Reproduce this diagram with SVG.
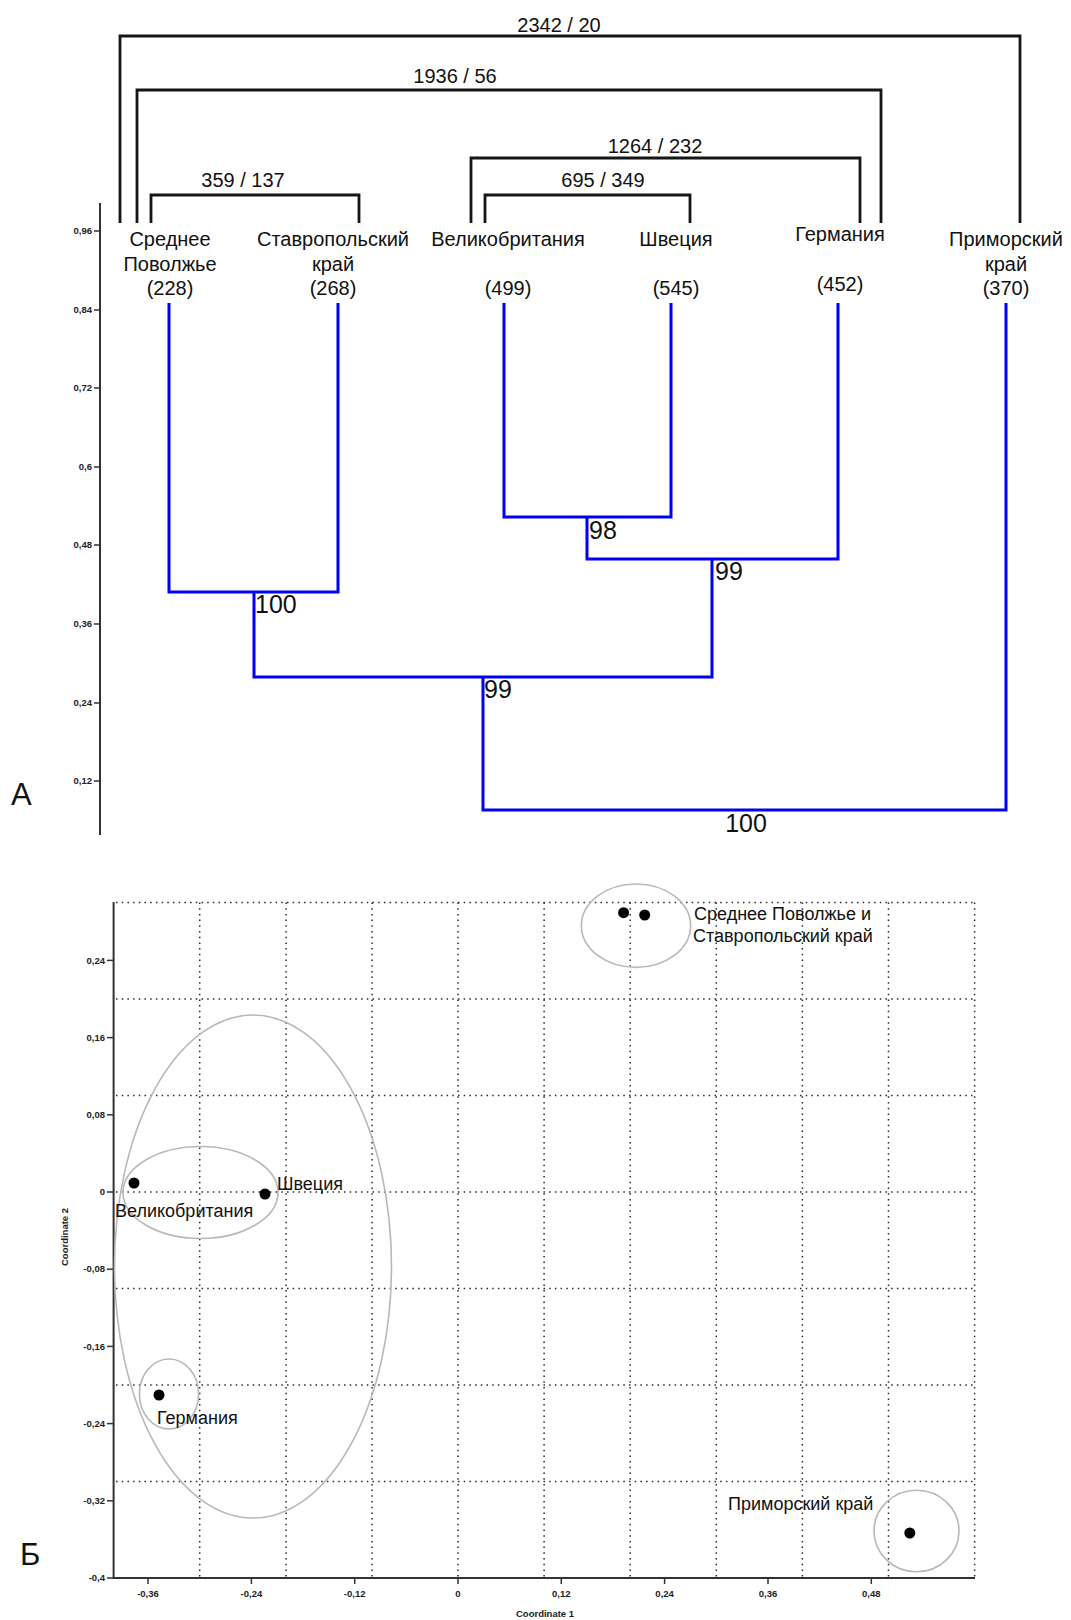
<svg xmlns="http://www.w3.org/2000/svg" width="1071" height="1620" viewBox="0 0 1071 1620">
<defs>
<style>
text{font-family:"Liberation Sans",Arial,sans-serif;fill:#111}
.lbl{font-size:20px;text-anchor:middle}
.br{fill:none;stroke:#151515;stroke-width:2.8;stroke-linejoin:miter}
.tree{fill:none;stroke:#0000f5;stroke-width:3;stroke-linejoin:miter}
.boot{font-size:25px}
.tk{font-size:9.5px;font-weight:bold;fill:#222}
.tkr{text-anchor:end}
.tkc{text-anchor:middle}
.ax{stroke:#333;stroke-width:2;fill:none}
.tm{stroke:#333;stroke-width:1.5}
.grid{stroke:#2a2a2a;stroke-width:1.5;stroke-dasharray:1.5 4.2;fill:none}
.ell{fill:none;stroke:#b8b8b8;stroke-width:1.6}
.pt{fill:#000}
.sl{font-size:18px}
.panel{font-size:31px}
</style>
</defs>
<rect width="1071" height="1620" fill="#fff"/>

<!-- ===== Panel A ===== -->
<g id="panel-a">
  <text class="panel" x="11" y="805">А</text>
  <g id="axis-a">
    <line class="ax" x1="100" y1="203" x2="100" y2="835"/>
    <g class="tm">
      <line x1="94" y1="231" x2="100" y2="231"/>
      <line x1="94" y1="310" x2="100" y2="310"/>
      <line x1="94" y1="388" x2="100" y2="388"/>
      <line x1="94" y1="467" x2="100" y2="467"/>
      <line x1="94" y1="545" x2="100" y2="545"/>
      <line x1="94" y1="624" x2="100" y2="624"/>
      <line x1="94" y1="703" x2="100" y2="703"/>
      <line x1="94" y1="781" x2="100" y2="781"/>
    </g>
    <text class="tk tkr" x="92" y="234">0,96</text>
    <text class="tk tkr" x="92" y="313">0,84</text>
    <text class="tk tkr" x="92" y="391">0,72</text>
    <text class="tk tkr" x="92" y="470">0,6</text>
    <text class="tk tkr" x="92" y="548">0,48</text>
    <text class="tk tkr" x="92" y="627">0,36</text>
    <text class="tk tkr" x="92" y="706">0,24</text>
    <text class="tk tkr" x="92" y="784">0,12</text>
  </g>

  <g id="connectors">
    <g id="brackets">
      <polyline class="br" points="120,223 120,36 1020,36 1020,223"/>
      <polyline class="br" points="137,223 137,90 881,90 881,223"/>
      <polyline class="br" points="151,223 151,195 359,195 359,223"/>
      <polyline class="br" points="471,223 471,158 860,158 860,223"/>
      <polyline class="br" points="485,223 485,195 690,195 690,223"/>
    </g>
    <g id="tree">
      <polyline class="tree" points="169,303 169,592 338,592 338,303"/>
      <polyline class="tree" points="504,303 504,517 671,517 671,303"/>
      <polyline class="tree" points="587,517 587,559 838,559 838,303"/>
      <polyline class="tree" points="254,592 254,677 712,677 712,559"/>
      <polyline class="tree" points="483,677 483,810 1006,810 1006,303"/>
    </g>
  </g>

  <g id="bracket-labels">
    <text class="lbl" x="559" y="32">2342 / 20</text>
    <text class="lbl" x="455" y="83">1936 / 56</text>
    <text class="lbl" x="243" y="187">359 / 137</text>
    <text class="lbl" x="655" y="153">1264 / 232</text>
    <text class="lbl" x="603" y="187">695 / 349</text>
  </g>

  <g id="node-sredneye-povolzhye">
    <text class="lbl" x="170" y="246">Среднее</text>
    <text class="lbl" x="170" y="271">Поволжье</text>
    <text class="lbl" x="170" y="295">(228)</text>
  </g>
  <g id="node-stavropol">
    <text class="lbl" x="333" y="246">Ставропольский</text>
    <text class="lbl" x="333" y="271">край</text>
    <text class="lbl" x="333" y="295">(268)</text>
  </g>
  <g id="node-uk">
    <text class="lbl" x="508" y="246">Великобритания</text>
    <text class="lbl" x="508" y="295">(499)</text>
  </g>
  <g id="node-sweden">
    <text class="lbl" x="676" y="246">Швеция</text>
    <text class="lbl" x="676" y="295">(545)</text>
  </g>
  <g id="node-germany">
    <text class="lbl" x="840" y="241">Германия</text>
    <text class="lbl" x="840" y="291">(452)</text>
  </g>
  <g id="node-primorsky">
    <text class="lbl" x="1006" y="246">Приморский</text>
    <text class="lbl" x="1006" y="271">край</text>
    <text class="lbl" x="1006" y="295">(370)</text>
  </g>

  <g id="bootstrap-labels">
    <text class="boot" x="255" y="613">100</text>
    <text class="boot" x="589" y="539">98</text>
    <text class="boot" x="715" y="580">99</text>
    <text class="boot" x="484" y="698">99</text>
    <text class="boot" x="746" y="832" text-anchor="middle">100</text>
  </g>
</g>

<!-- ===== Panel B ===== -->
<g id="panel-b">
  <text class="panel" x="20" y="1565">Б</text>
  <g id="grid">
    <line class="grid" x1="116" y1="902.5" x2="974.6" y2="902.5"/>
    <line class="grid" x1="116" y1="999" x2="974.6" y2="999"/>
    <line class="grid" x1="116" y1="1095.5" x2="974.6" y2="1095.5"/>
    <line class="grid" x1="116" y1="1192" x2="974.6" y2="1192"/>
    <line class="grid" x1="116" y1="1288.5" x2="974.6" y2="1288.5"/>
    <line class="grid" x1="116" y1="1385" x2="974.6" y2="1385"/>
    <line class="grid" x1="116" y1="1481.5" x2="974.6" y2="1481.5"/>
    <line class="grid" x1="199.7" y1="902.5" x2="199.7" y2="1577"/>
    <line class="grid" x1="286.1" y1="902.5" x2="286.1" y2="1577"/>
    <line class="grid" x1="372.1" y1="902.5" x2="372.1" y2="1577"/>
    <line class="grid" x1="458" y1="902.5" x2="458" y2="1577"/>
    <line class="grid" x1="544.1" y1="902.5" x2="544.1" y2="1577"/>
    <line class="grid" x1="630.2" y1="902.5" x2="630.2" y2="1577"/>
    <line class="grid" x1="716.3" y1="902.5" x2="716.3" y2="1577"/>
    <line class="grid" x1="802.4" y1="902.5" x2="802.4" y2="1577"/>
    <line class="grid" x1="888.5" y1="902.5" x2="888.5" y2="1577"/>
    <line class="grid" x1="974.6" y1="902.5" x2="974.6" y2="1577"/>
  </g>
  <g id="axes-b">
    <line class="ax" x1="113.6" y1="902" x2="113.6" y2="1578"/>
    <line class="ax" x1="112.6" y1="1578" x2="975" y2="1578"/>
    <g class="tm">
      <line x1="107" y1="960.4" x2="113.6" y2="960.4"/>
      <line x1="107" y1="1037.6" x2="113.6" y2="1037.6"/>
      <line x1="107" y1="1114.8" x2="113.6" y2="1114.8"/>
      <line x1="107" y1="1192" x2="113.6" y2="1192"/>
      <line x1="107" y1="1269.2" x2="113.6" y2="1269.2"/>
      <line x1="107" y1="1346.4" x2="113.6" y2="1346.4"/>
      <line x1="107" y1="1423.6" x2="113.6" y2="1423.6"/>
      <line x1="107" y1="1500.8" x2="113.6" y2="1500.8"/>
      <line x1="107" y1="1578" x2="113.6" y2="1578"/>
      <line x1="148" y1="1578" x2="148" y2="1584"/>
      <line x1="251.4" y1="1578" x2="251.4" y2="1584"/>
      <line x1="354.7" y1="1578" x2="354.7" y2="1584"/>
      <line x1="458" y1="1578" x2="458" y2="1584"/>
      <line x1="561.3" y1="1578" x2="561.3" y2="1584"/>
      <line x1="664.6" y1="1578" x2="664.6" y2="1584"/>
      <line x1="768" y1="1578" x2="768" y2="1584"/>
      <line x1="871.3" y1="1578" x2="871.3" y2="1584"/>
    </g>
    <text class="tk tkr" x="105" y="963.5">0,24</text>
    <text class="tk tkr" x="105" y="1040.7">0,16</text>
    <text class="tk tkr" x="105" y="1117.9">0,08</text>
    <text class="tk tkr" x="105" y="1195.1">0</text>
    <text class="tk tkr" x="105" y="1272.3">-0,08</text>
    <text class="tk tkr" x="105" y="1349.5">-0,16</text>
    <text class="tk tkr" x="105" y="1426.7">-0,24</text>
    <text class="tk tkr" x="105" y="1503.9">-0,32</text>
    <text class="tk tkr" x="105" y="1581.1">-0,4</text>
    <text class="tk tkc" x="148" y="1597">-0,36</text>
    <text class="tk tkc" x="251.4" y="1597">-0,24</text>
    <text class="tk tkc" x="354.7" y="1597">-0,12</text>
    <text class="tk tkc" x="458" y="1597">0</text>
    <text class="tk tkc" x="561.3" y="1597">0,12</text>
    <text class="tk tkc" x="664.6" y="1597">0,24</text>
    <text class="tk tkc" x="768" y="1597">0,36</text>
    <text class="tk tkc" x="871.3" y="1597">0,48</text>
    <text class="tk tkc" x="545" y="1617">Coordinate 1</text>
    <text class="tk tkc" x="68" y="1237" transform="rotate(-90 68 1237)">Coordinate 2</text>
  </g>

  <g id="clusters">
    <ellipse class="ell" cx="253" cy="1266.5" rx="138.5" ry="251.5"/>
    <ellipse class="ell" cx="200.5" cy="1192.5" rx="77.5" ry="46"/>
    <ellipse class="ell" cx="169" cy="1394" rx="29.6" ry="35"/>
    <ellipse class="ell" cx="636" cy="925.7" rx="54.6" ry="41.7"/>
    <ellipse class="ell" cx="916.5" cy="1531" rx="42.5" ry="40.8"/>
  </g>

  <g id="pt-uk">
    <circle class="pt" cx="134" cy="1183" r="5.5"/>
    <text class="sl" x="115" y="1217">Великобритания</text>
  </g>
  <g id="pt-sweden">
    <circle class="pt" cx="265" cy="1194" r="5.5"/>
    <text class="sl" x="277" y="1190">Швеция</text>
  </g>
  <g id="pt-germany">
    <circle class="pt" cx="159" cy="1395" r="5.5"/>
    <text class="sl" x="157" y="1424">Германия</text>
  </g>
  <g id="pt-volga-stavropol">
    <circle class="pt" cx="623.6" cy="912.7" r="5.5"/>
    <circle class="pt" cx="644.7" cy="915" r="5.5"/>
    <text class="sl" x="694" y="920">Среднее Поволжье и</text>
    <text class="sl" x="693" y="942">Ставропольский край</text>
  </g>
  <g id="pt-primorsky">
    <circle class="pt" cx="909.8" cy="1533" r="5.5"/>
    <text class="sl" x="728" y="1510">Приморский край</text>
  </g>
</g>
</svg>
